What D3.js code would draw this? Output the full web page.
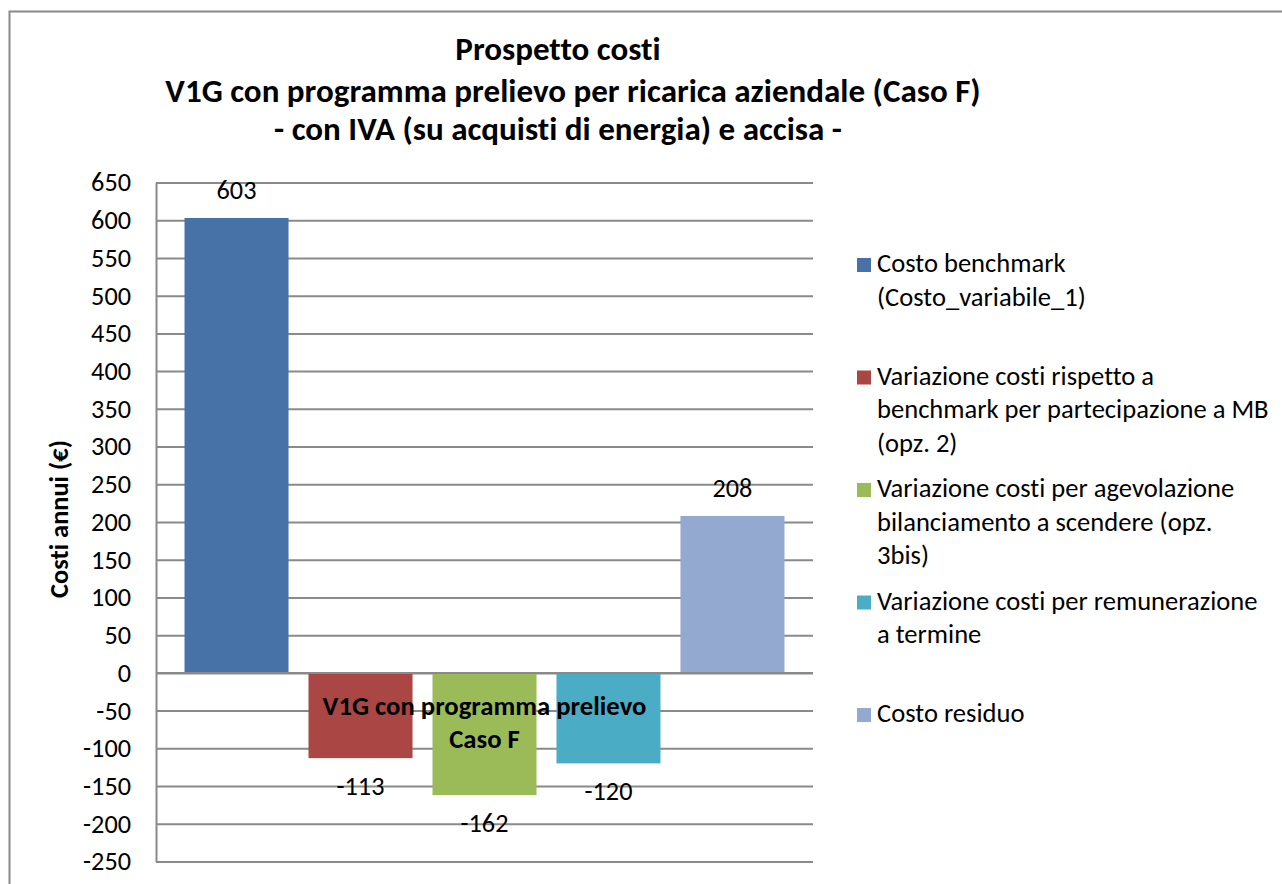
<!DOCTYPE html>
<html>
<head>
<meta charset="utf-8">
<script src="https://cdn.jsdelivr.net/npm/d3@7/dist/d3.min.js"></script>
<style>
  html, body { margin: 0; padding: 0; background: #fff; overflow: hidden; }
  svg text { font-family: Carlito, Lato, "Open Sans", sans-serif; fill: #000;
             font-variant-ligatures: none;
             font-feature-settings: "liga" 0, "clig" 0, "dlig" 0, "calt" 0;
             letter-spacing: 0.01px; }
</style>
</head>
<body>
<div id="chart"></div>
<script>
// Prospetto costi - V1G Caso F
const titleLines = [
    "Prospetto costi",
    "V1G con programma prelievo per ricarica aziendale (Caso F)",
    "- con IVA (su acquisti di energia) e accisa -"
];
const categoryLines = ["V1G con programma prelievo", "Caso F"];
const seriesNames = [
    "Costo benchmark (Costo_variabile_1)",
    "Variazione costi rispetto a benchmark per partecipazione a MB (opz. 2)",
    "Variazione costi per agevolazione bilanciamento a scendere (opz. 3bis)",
    "Variazione costi per remunerazione a termine",
    "Costo residuo"
];
// legend text as Excel wraps it
const legendLines = [
    ["Costo benchmark", "(Costo_variabile_1)"],
    ["Variazione costi rispetto a", "benchmark per partecipazione a MB", "(opz. 2)"],
    ["Variazione costi per agevolazione", "bilanciamento a scendere (opz.", "3bis)"],
    ["Variazione costi per remunerazione", "a termine"],
    ["Costo residuo"]
];
const values = [603, -113, -162, -120, 208];
const colors = ["#4672A8", "#AA4643", "#9BBB59", "#4BACC6", "#93A9CF"];
const yTicks = [650, 600, 550, 500, 450, 400, 350, 300, 250, 200, 150, 100, 50, 0,
    -50, -100, -150, -200, -250];
const yTitle = "Costi annui (€)";

const W = 1282, H = 884;
const plot = { left: 156, right: 813, top: 182.5, bottom: 861.5 };
const gridColor = "#8a8a8a";

const svg = d3.select("#chart").append("svg")
    .attr("width", W)
    .attr("height", H);

// outer chart frame (continues past the picture edge)
svg.append("rect")
    .attr("x", 9.5).attr("y", 11.5)
    .attr("width", W + 100).attr("height", H + 100)
    .attr("fill", "none")
    .attr("stroke", gridColor)
    .attr("stroke-width", 2);

// scale a text so that it has the given width
function fitFont(sel, target, start) {
    sel.style("font-size", start + "px");
    const w = sel.node().getComputedTextLength();
    const size = start * target / w;
    sel.style("font-size", size + "px");
    return size;
}

const y = d3.scaleLinear().domain([-250, 650]).range([plot.bottom, plot.top]);
const x0 = d3.scaleBand().domain(["Caso F"]).range([plot.left, plot.right]);
const x1 = d3.scaleBand()
    .domain(seriesNames)
    .range([plot.left, plot.right])
    .paddingInner(0.161)
    .paddingOuter(0.23);

// gridlines
svg.append("g")
    .attr("transform", `translate(${plot.left},0)`)
    .call(d3.axisLeft(y).tickValues(yTicks).tickSize(-(plot.right - plot.left)).tickFormat(""))
    .call(g => g.select(".domain").remove())
    .call(g => g.selectAll("line").attr("stroke", gridColor).attr("stroke-width", 2));

// bars
svg.selectAll(".bar")
    .data(values)
    .enter()
    .append("rect")
    .attr("class", "bar")
    .attr("x", (d, i) => x1(seriesNames[i]))
    .attr("width", x1.bandwidth())
    .attr("y", d => d >= 0 ? y(d) : y(0))
    .attr("height", d => Math.abs(y(d) - y(0)))
    .attr("fill", (d, i) => colors[i]);

// zero axis line over the bars
svg.append("line")
    .attr("x1", plot.left).attr("x2", plot.right)
    .attr("y1", y(0)).attr("y2", y(0))
    .attr("stroke", gridColor).attr("stroke-width", 2);

// left axis
const yAxis = svg.append("g")
    .attr("transform", `translate(${plot.left},0)`)
    .call(d3.axisLeft(y).tickValues(yTicks).tickSize(0).tickPadding(25)
        .tickFormat(d => String(d)));
yAxis.select(".domain").attr("stroke", gridColor).attr("stroke-width", 2);
yAxis.selectAll("text").attr("font-family", null).style("fill", "#000");
const refTick = yAxis.selectAll("text").filter(d => d === -250);
const tickSize = fitFont(refTick, 48, 20);
yAxis.selectAll("text").style("font-size", tickSize + "px");

// data labels
svg.selectAll(".value-label")
    .data(values)
    .enter()
    .append("text")
    .attr("class", "value-label")
    .attr("text-anchor", "middle")
    .attr("x", (d, i) => x1(seriesNames[i]) + x1.bandwidth() / 2)
    .attr("y", d => d >= 0 ? y(d) - 19 : y(d) + 37)
    .style("font-size", tickSize + "px")
    .text(d => String(d));

// category label, drawn over the bars
const catG = svg.append("g");
const catFirst = catG.append("text")
    .attr("text-anchor", "middle")
    .attr("x", x0("Caso F") + x0.bandwidth() / 2)
    .attr("y", 715)
    .style("font-weight", "bold")
    .text(categoryLines[0]);
const catSize = fitFont(catFirst, 324, 20);
catG.append("text")
    .attr("text-anchor", "middle")
    .attr("x", x0("Caso F") + x0.bandwidth() / 2)
    .attr("y", 748)
    .style("font-weight", "bold")
    .style("font-size", catSize + "px")
    .text(categoryLines[1]);

// y axis title
const yt = svg.append("text")
    .attr("text-anchor", "middle")
    .attr("transform", "translate(68,519) rotate(-90)")
    .style("font-weight", "bold")
    .text(yTitle);
fitFont(yt, 158, 20);

// title
const titleX = [558, 573, 558];
const titleY = [60, 102, 140];
const titles = svg.selectAll(".title")
    .data(titleLines)
    .enter()
    .append("text")
    .attr("class", "title")
    .attr("text-anchor", "middle")
    .attr("x", (d, i) => titleX[i])
    .attr("y", (d, i) => titleY[i])
    .style("font-weight", "bold")
    .text(d => d);
const titleSize = fitFont(titles.filter((d, i) => i === 1), 816, 24);
titles.style("font-size", titleSize + "px");

// legend
const legendTop = 272, legendStep = 112.5, lineStep = 33.7;
const legend = svg.selectAll(".legend-item")
    .data(legendLines)
    .enter()
    .append("g")
    .attr("class", "legend-item")
    .attr("transform", (d, i) => `translate(857,${legendTop + i * legendStep})`);
legend.append("rect")
    .attr("x", 0).attr("y", -14)
    .attr("width", 14).attr("height", 14)
    .attr("fill", (d, i) => colors[i]);
const legendText = legend.append("text")
    .attr("x", 20).attr("y", 0);
legendText.selectAll("tspan")
    .data(d => d)
    .enter()
    .append("tspan")
    .attr("x", 20)
    .attr("dy", (d, j) => j === 0 ? 0 : lineStep)
    .text(d => d);
// size legend font from the widest wrapped line
const probe = svg.append("text").text(legendLines[1][1]);
const legendSize = fitFont(probe, 392, 20);
probe.remove();
legendText.style("font-size", legendSize + "px");
</script>
</body>
</html>
